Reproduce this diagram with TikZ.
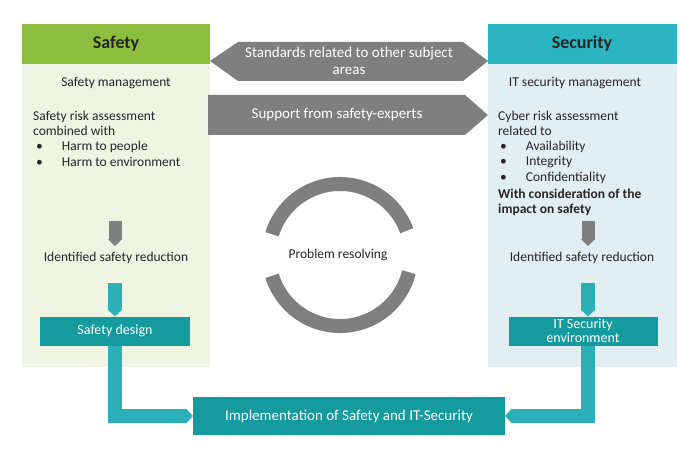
\documentclass[tikz,border=0pt]{standalone}
\usepackage{fontspec}
\setmainfont{Carlito}
\usetikzlibrary{arrows.meta,shapes.arrows}
\definecolor{lgreen}{HTML}{EFF4E3}
\definecolor{lblue}{HTML}{E1EEF2}
\definecolor{hgreen}{HTML}{8CBD3F}
\definecolor{hteal}{HTML}{2DB5C2}
\definecolor{dteal}{HTML}{159A9E}
\definecolor{cteal}{HTML}{2BAFB8}
\definecolor{agray}{HTML}{7F7F7F}
\tikzset{
  txt/.style={font=\fontsize{13.5}{15}\selectfont, text=black!85, inner sep=0pt},
  head/.style={font=\fontsize{18}{20}\selectfont\bfseries, text=black!85},
  tbox/.style={fill=dteal, text=white, font=\fontsize{14}{14}\selectfont, align=center, inner sep=0pt},
  conn/.style={draw=cteal, line width=14pt, -{Triangle[length=7pt,width=15pt]}},
  gconn/.style={draw=agray, line width=13pt, -{Triangle[length=7pt,width=14pt]}},
  darr/.style={fill=agray, text=white, font=\fontsize{15}{17}\selectfont, align=center},
}
\begin{document}
\begin{tikzpicture}[x=1pt,y=-1pt]
\useasboundingbox[fill=white] (0,0) rectangle (700,457);
% panels
\fill[lgreen] (22,24) rectangle (210,367);
\fill[lblue] (488,24) rectangle (677,367);
\fill[hgreen] (22,24) rectangle (210,64);
\fill[hteal] (488,24) rectangle (677,64);
\node[head] (safety) at (116,44) {Safety};
\node[head] (security) at (582,44) {Security};
% middle arrows
\fill[agray] (210,61) -- (238,42) -- (463,42) -- (488,61) -- (463,81) -- (238,81) -- cycle;
\node[darr,fill=none] (std) at (349,61) {Standards related to other subject\\areas};
\fill[agray] (208,95) -- (465,95) -- (488,115) -- (465,135) -- (208,135) -- cycle;
\node[darr,fill=none] (sup) at (337,115) {Support from safety-experts};
% left texts
\node[txt] (sm) at (116,83) {Safety management};
\node[txt,anchor=west] (sra) at (33,117) {Safety risk assessment};
\node[txt,anchor=west] (cw) at (33,131) {combined with};
\node[txt,anchor=west] (b1) at (36,147) {\textbullet\hspace{19pt}Harm to people};
\node[txt,anchor=west] (b2) at (36,162) {\textbullet\hspace{19pt}Harm to environment};
\node[txt] (isrl) at (116,258) {Identified safety reduction};
\node[tbox,minimum width=150pt,minimum height=29pt] (sd) at (115,331) {Safety design};
% right texts
\node[txt] (itsm) at (575,83) {IT security management};
\node[txt,anchor=west] (cra) at (498,117) {Cyber risk assessment};
\node[txt,anchor=west] (rt) at (498,131) {related to};
\node[txt,anchor=west] (c1) at (500,147) {\textbullet\hspace{19pt}Availability};
\node[txt,anchor=west] (c2) at (500,162) {\textbullet\hspace{19pt}Integrity};
\node[txt,anchor=west] (c3) at (500,178) {\textbullet\hspace{19pt}Confidentiality};
\node[txt,anchor=west,font=\fontsize{13.5}{15}\selectfont\bfseries] (w1) at (498,194) {With consideration of the};
\node[txt,anchor=west,font=\fontsize{13.5}{15}\selectfont\bfseries] (w2) at (498,210) {impact on safety};
\node[txt] (isrr) at (582,258) {Identified safety reduction};
\node[tbox,minimum width=149pt,minimum height=29pt] (ise) at (583,331) {IT Security\\environment};
% implementation
\node[tbox,minimum width=312pt,minimum height=38pt,font=\fontsize{15}{16}\selectfont] (impl) at (349,416) {Implementation of Safety and IT-Security};
% gray arrows
\coordinate (gl) at (115,221);
\coordinate (gr) at (588,221);
\draw[gconn] (gl) -- ([yshift=6pt]isrl.north -| gl);
\draw[gconn] (gr) -- ([yshift=6pt]isrr.north -| gr);
% teal arrows
\coordinate (tl) at (115,283);
\coordinate (tr) at (588,283);
\draw[conn] (tl) -- (sd.north -| tl);
\draw[conn] (tr) -- (ise.north -| tr);
\draw[conn] (sd.south -| tl) |- (impl.west);
\draw[conn] (ise.south -| tr) |- (impl.east);
% circle arrows
\draw[agray,line width=14pt] (340,255) ++(163:71) arc[start angle=163,end angle=14,radius=71];
\draw[agray,line width=14pt] (340,255) ++(197:71) arc[start angle=197,end angle=340,radius=71];
\node[txt] (pr) at (338,255) {Problem resolving};
\end{tikzpicture}
\end{document}
